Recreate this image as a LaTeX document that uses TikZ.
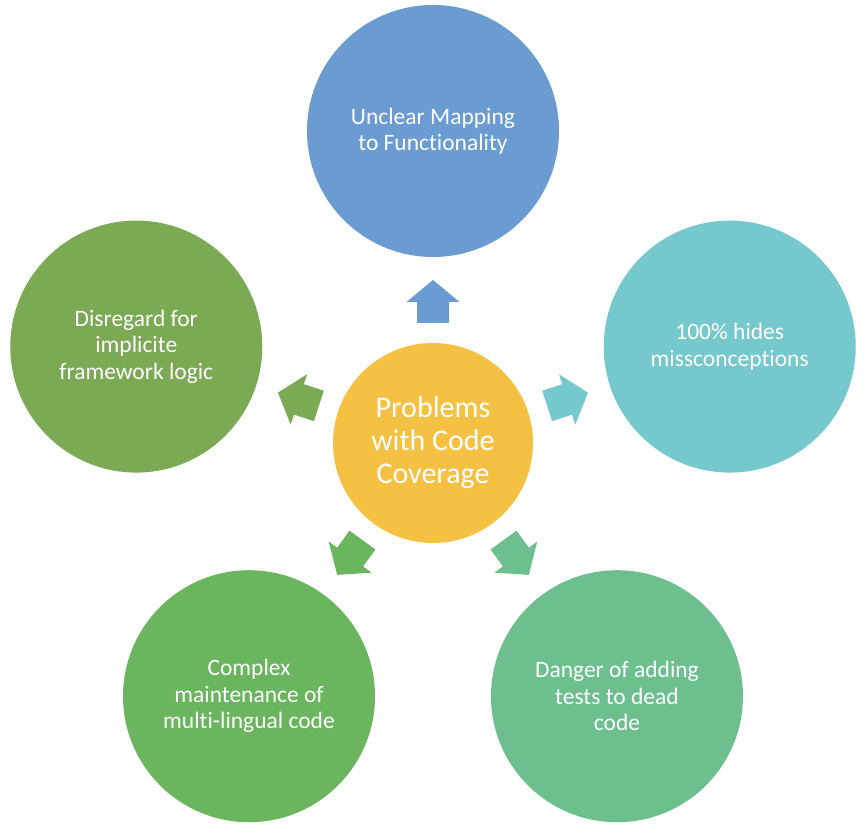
\documentclass[tikz,border=0pt]{standalone}
\usepackage{fontspec}
\setmainfont[Ligatures=NoCommon]{Carlito}
\usetikzlibrary{calc}
\definecolor{cgold}{HTML}{F4C143}
\definecolor{cblue}{HTML}{6A9BD1}
\definecolor{cteal}{HTML}{75C8CB}
\definecolor{colive}{HTML}{7BA954}
\definecolor{cgreen}{HTML}{6AB55D}
\definecolor{cmint}{HTML}{6DC08E}
\tikzset{
  outer/.style={circle, minimum size=252pt, inner sep=0pt, text=white, align=center,
    font=\fontsize{23.5}{26.5}\selectfont},
  hub/.style={circle, fill=cgold, minimum size=200pt, inner sep=0pt, text=white, align=center,
    font=\fontsize{30}{33}\selectfont},
}
\newcommand{\blockarrow}[2]{%
  \begin{scope}[shift={(hub.center)}, rotate=#1]
    \fill[#2] (120,-16) -- (141,-16) -- (141,-26.5) -- (163,0) -- (141,26.5) -- (141,16) -- (120,16) -- cycle;
  \end{scope}}
\begin{document}
\begin{tikzpicture}[x=1pt,y=1pt]
\useasboundingbox (0,0) rectangle (864,830);
\node[hub] (hub) at (433,387) {Problems\\with Code\\Coverage};
\node[outer, fill=cblue]  (top)   at ($(hub.center)+(90:312)$)   {Unclear Mapping\\to Functionality};
\node[outer, fill=cteal]  (right) at ($(hub.center)+(18:312)$)   {100\% hides\\missconceptions};
\node[outer, fill=cmint]  (br)    at ($(hub.center)+(-54:313)$)  {Danger of adding\\tests to dead\\code};
\node[outer, fill=cgreen] (bl)    at ($(hub.center)+(-126:313)$) {Complex\\maintenance of\\multi-lingual code};
\node[outer, fill=colive] (left)  at ($(hub.center)+(162:312)$)  {Disregard for\\implicite\\framework logic};
\blockarrow{90}{cblue}
\blockarrow{18}{cteal}
\blockarrow{-54}{cmint}
\blockarrow{-126}{cgreen}
\blockarrow{162}{colive}
\end{tikzpicture}
\end{document}
